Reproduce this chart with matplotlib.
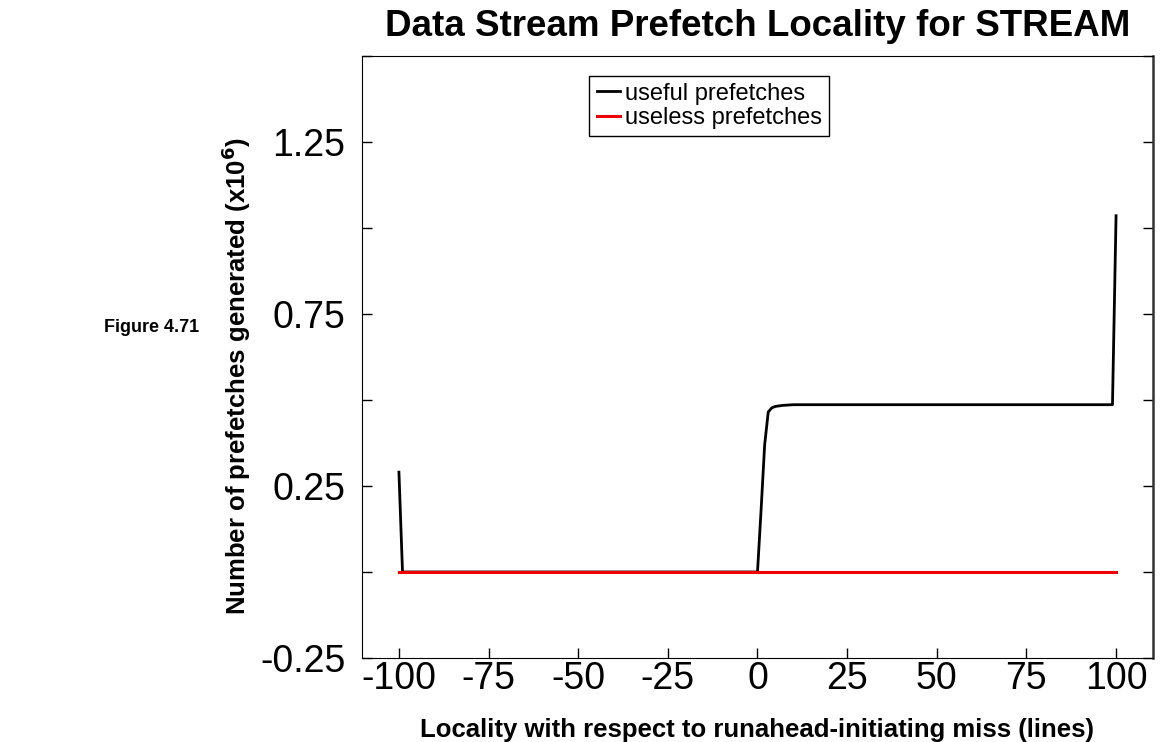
import matplotlib
matplotlib.use('Agg')
import matplotlib.pyplot as plt
from matplotlib.ticker import MultipleLocator

plt.rcParams['font.family'] = ['Liberation Sans', 'DejaVu Sans']

# locality (lines) vs prefetch counts (x10^6)
useful_x = [-100, -99, 0, 1, 2, 3, 4, 5, 7, 10, 99, 100]
useful_y = [0.29, 0.0, 0.0, 0.18, 0.37, 0.465, 0.477, 0.481, 0.484, 0.486, 0.486, 1.035]
useless_x = [-100, 100]
useless_y = [0.0, 0.0]

x_ticks = [-100, -75, -50, -25, 0, 25, 50, 75, 100]
y_ticks = [-0.25, 0.25, 0.75, 1.25]
y_tick_labels = ['-0.25', '0.25', '0.75', '1.25']

fig = plt.figure(figsize=(11.61, 7.42), dpi=100)
ax = fig.add_axes([0.3118, 0.1132, 0.6813, 0.8117])

ax.plot(useful_x, useful_y, color='black', linewidth=2, label='useful prefetches')
ax.plot(useless_x, useless_y, color='#ee0000', linewidth=2.2, label='useless prefetches')

ax.set_xlim(-110.3, 110.3)
ax.set_ylim(-0.25, 1.5)
ax.set_xticks(x_ticks)
ax.set_xticklabels([str(v) for v in x_ticks])
ax.set_yticks(y_ticks)
ax.set_yticklabels(y_tick_labels)
ax.yaxis.set_minor_locator(MultipleLocator(0.25))

ax.tick_params(axis='both', which='both', direction='in', length=7, width=1, labelsize=27)
ax.tick_params(axis='y', which='both', right=True, pad=12)
ax.tick_params(axis='x', pad=2)
ax.spines['right'].set_linewidth(1.8)
ax.spines['right'].set_color('#333333')

ax.set_title('Data Stream Prefetch Locality for STREAM', fontsize=26.5, fontweight='bold', pad=14)
ax.set_xlabel('Locality with respect to runahead-initiating miss (lines)', fontsize=18.5,
              fontweight='bold', labelpad=15)
ax.set_ylabel('Number of prefetches generated (x10$^{\\mathbf{6}}$)', fontsize=18.5,
              fontweight='bold')
ax.yaxis.set_label_coords(-0.138, 0.468)

leg = ax.legend(loc='upper center', bbox_to_anchor=(0.439, 0.967), fontsize=17,
                handlelength=1.0, handletextpad=0.2, borderpad=0.3, labelspacing=0.1,
                borderaxespad=0, fancybox=False, edgecolor='black', framealpha=1)
leg.get_frame().set_linewidth(1)

fig.text(0.09, 0.558, 'Figure 4.71', fontsize=13, fontweight='bold', va='center')

fig.savefig('out.png', dpi=100)
